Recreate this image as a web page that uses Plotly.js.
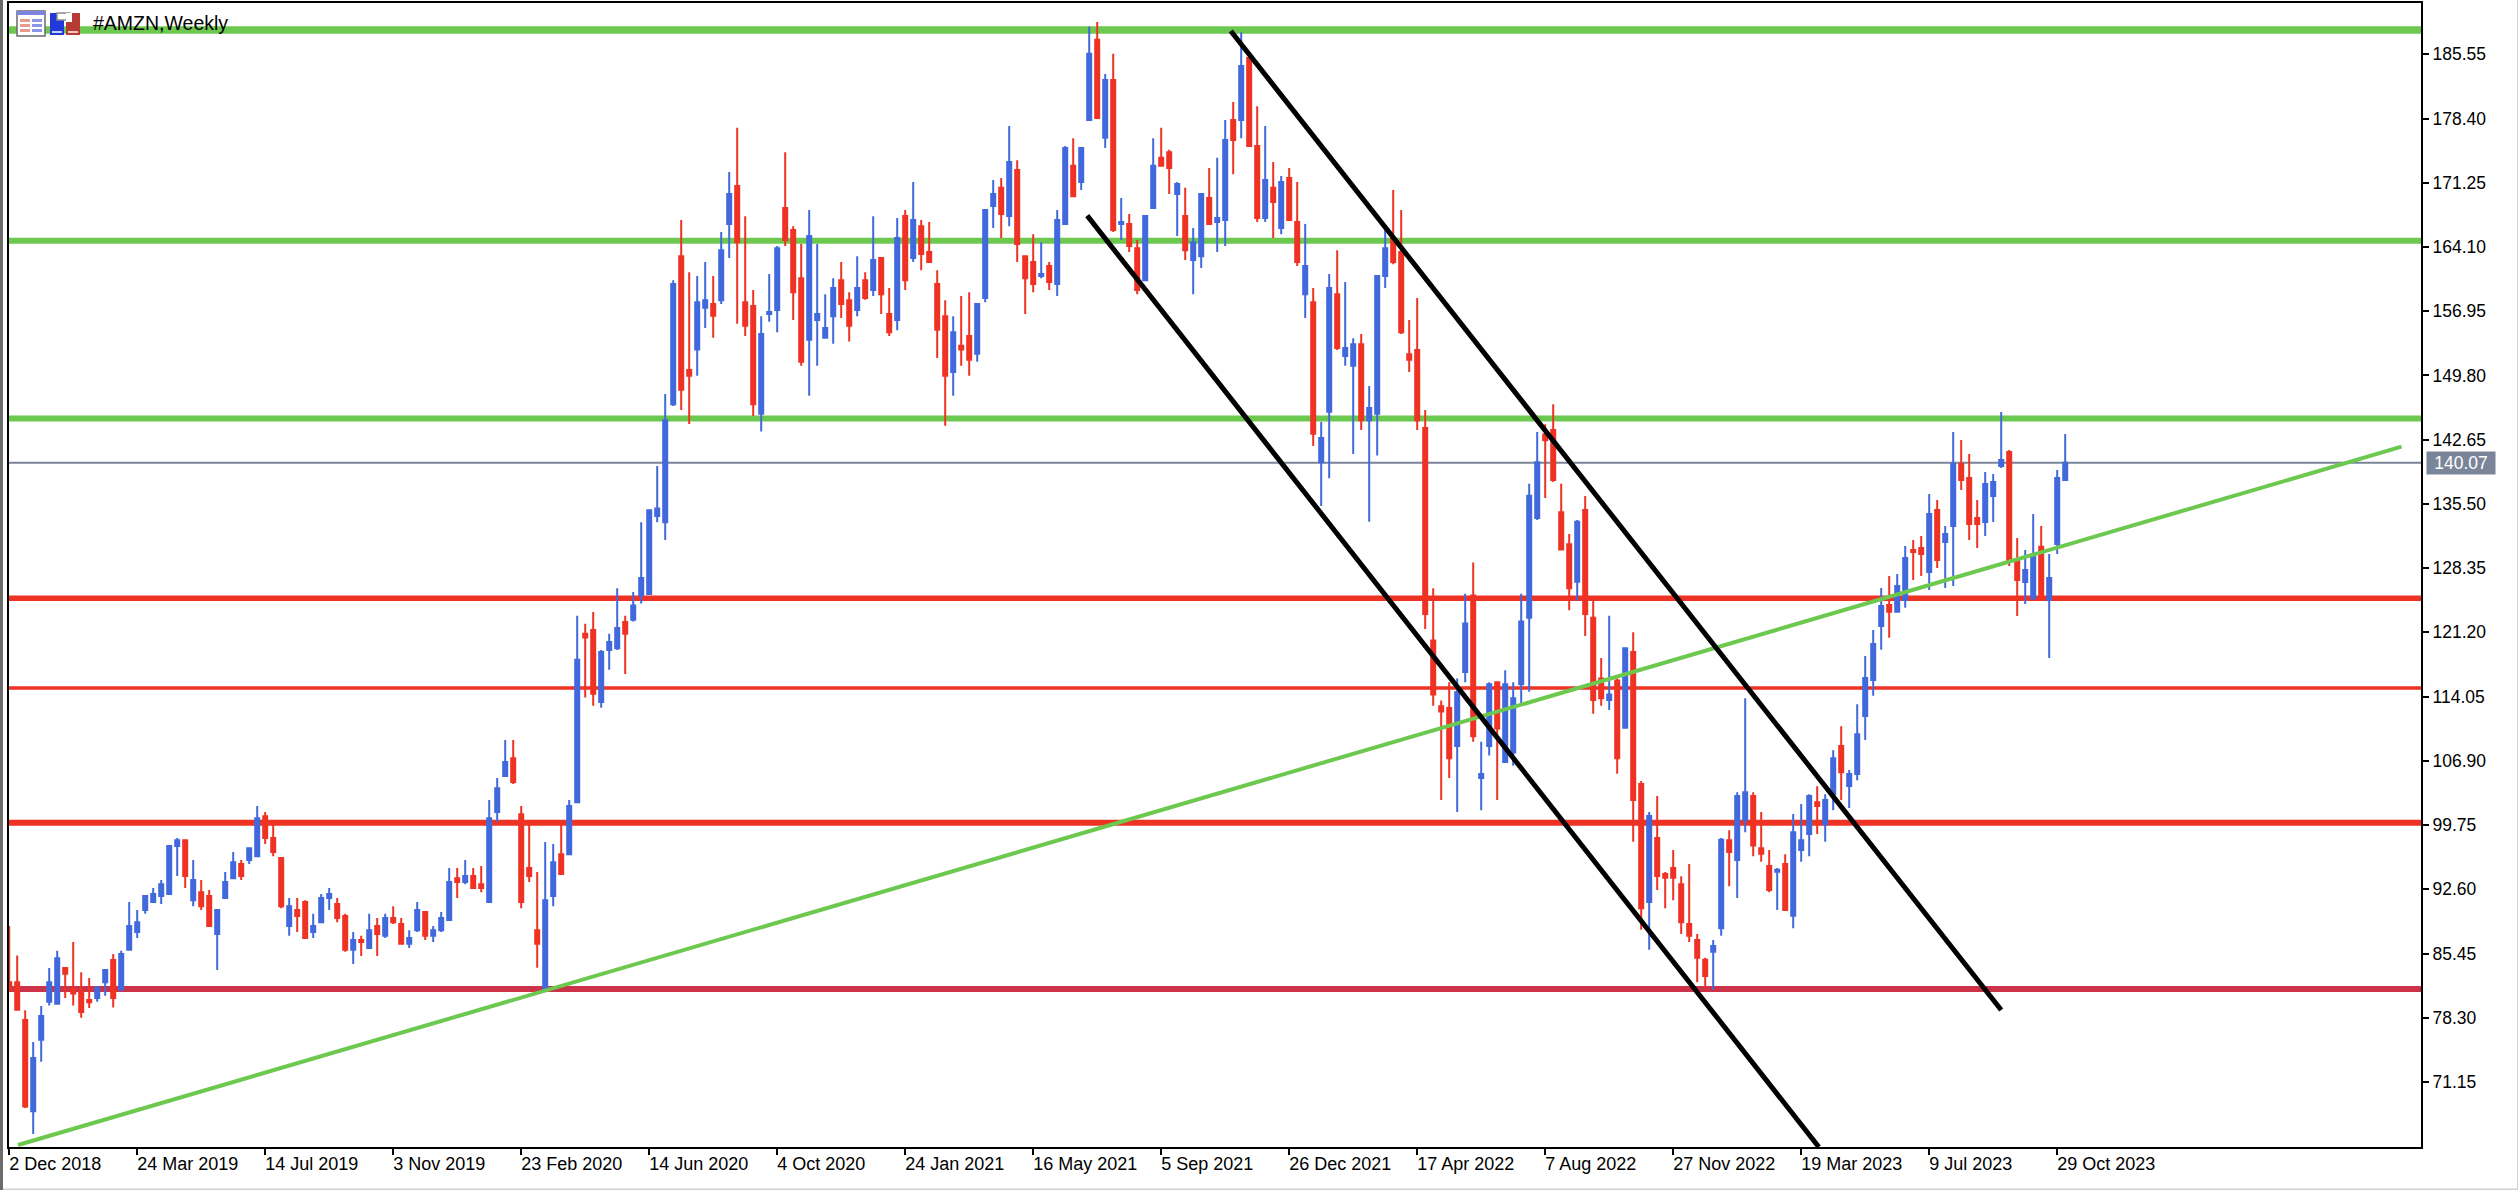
<!DOCTYPE html>
<html>
<head>
<meta charset="utf-8">
<script src="https://cdn.plot.ly/plotly-3.0.1.min.js"></script>
<style>html,body{margin:0;padding:0;background:#fff;overflow:hidden}#chart{position:absolute;left:0;top:0;width:2518px;height:1190px}</style>
</head>
<body>
<div id="chart"></div>
<script>
const chartTitle = '#AMZN,Weekly';
const firstWeek = Date.UTC(2018, 11, 2);
const opens = [
82.26,82.26,78.04,67.90,75.84,80.07,79.86,83.83,81.42,81.21,
80.28,80.49,82.26,84.72,81.42,85.86,87.84,90.29,91.18,91.86,
92.07,97.43,98.07,91.39,92.28,91.86,87.63,91.64,93.84,95.40,
95.87,96.29,100.73,98.32,96.08,88.52,90.29,91.18,87.84,88.94,
91.64,90.97,89.62,85.86,86.95,86.07,88.52,87.42,89.40,88.73,
86.53,88.05,90.08,87.42,88.05,89.19,93.84,93.42,94.09,93.17,
91.18,101.19,105.21,107.19,100.94,94.98,88.05,81.42,91.86,96.50,
96.50,102.29,121.05,121.47,113.45,119.23,119.44,122.36,122.6,125.3,
125.48,134.14,133.46,146.60,163.08,150.40,152.68,157.33,157.75,158.17,
166.67,170.89,157.96,157.54,145.54,156.65,157.08,168.44,165.99,160.62,
153.78,155.98,153.99,156.40,160.41,158.17,157.08,160.41,159.32,162.86,
156.65,155.98,167.55,162.86,166.41,163.54,159.99,156.40,150.19,153.11,
154.20,152.22,158.43,168.65,170.68,167.55,172.67,163.08,162.44,160.88,
161.97,159.99,166.67,173.13,171.32,178.24,187.16,176.26,182.68,166.67,
166.67,163.96,160.41,168.44,174.02,174.65,170.0,167.55,162.66,163.08,
169.54,166.88,167.09,178.24,178.24,185.13,175.33,167.34,170.68,166.20,
171.78,166.88,158.85,157.96,140.13,145.75,158.85,151.96,150.87,153.27,
144.82,145.54,160.88,165.10,163.54,152.17,152.64,143.94,120.29,112.98,
112.77,108.54,116.78,125.3,105.0,108.54,115.64,106.77,107.83,115.43,
122.83,133.92,143.22,143.73,134.56,131.0,126.83,134.81,122.82,116.06,
113.66,115.85,110.57,119.02,104.32,91.18,98.32,94.31,94.98,93.17,
88.73,86.95,84.76,85.64,88.26,98.07,95.87,100.31,102.97,97.18,
95.19,94.56,95.40,89.66,96.97,98.74,102.29,99.84,103.18,108.54,
104.11,105.42,111.88,115.89,121.90,124.24,123.50,124.80,130.36,130.59,
127.91,134.82,131.25,133.04,139.94,138.38,133.93,133.48,136.38,139.72,
141.27,129.25,126.80,124.98,130.74,124.80,131.03,138.16];
const highs = [
88.52,85.22,79.14,75.59,79.60,83.83,85.77,83.83,86.74,83.36,
82.73,81.84,83.62,85.39,85.77,91.18,90.29,91.86,92.74,93.63,
97.43,98.32,98.07,95.87,93.63,92.53,90.29,94.52,96.76,95.87,
97.18,101.87,101.19,99.84,96.08,91.64,91.64,91.39,89.87,92.07,
92.74,91.64,89.87,87.84,87.42,89.87,89.40,89.87,90.71,89.40,
88.05,91.18,90.08,88.52,90.08,94.98,94.98,95.87,94.98,95.19,
102.54,105.0,109.22,109.22,101.87,99.84,94.52,97.86,97.64,100.01,
102.54,123.04,122.15,123.46,119.23,121.05,126.1,123.04,125.7,133.46,
134.8,139.71,147.74,160.41,167.09,161.30,160.88,162.44,160.88,165.78,
172.45,177.36,167.51,159.32,156.40,161.09,164.22,174.65,166.41,164.43,
168.23,164.43,158.85,160.62,162.44,159.06,163.08,161.30,167.51,162.86,
159.52,167.34,168.23,171.32,167.09,166.88,161.51,158.17,156.40,158.64,
159.06,157.75,168.23,171.57,171.78,177.57,173.76,163.08,165.53,164.64,
162.44,168.23,175.33,176.21,175.12,188.64,189.15,183.36,185.60,169.54,
167.76,164.89,167.55,176.21,177.36,174.91,171.32,170.68,166.20,170.0,
172.88,174.02,178.24,180.23,188.0,185.26,179.76,177.57,173.55,171.99,
172.88,171.32,166.67,159.52,144.61,161.09,163.75,160.20,153.95,154.41,
148.63,160.88,165.99,170.43,168.23,155.98,158.43,145.96,126.1,113.61,
115.64,116.06,125.5,128.98,109.01,115.64,115.64,116.99,115.64,125.5,
137.73,143.51,144.36,146.60,137.73,132.15,133.71,136.37,124.73,118.35,
123.04,116.06,119.44,121.22,104.66,101.19,102.97,94.52,96.97,94.05,
95.40,87.63,84.97,86.95,98.32,99.16,103.39,113.87,103.39,101.19,
96.97,94.98,96.50,100.98,102.08,103.18,104.07,103.18,108.08,110.74,
105.88,113.19,118.56,121.46,126.13,127.47,127.69,130.81,131.48,131.92,
136.60,135.93,133.04,143.50,142.61,141.05,135.93,139.05,138.82,145.73,
141.50,131.70,130.36,134.37,133.04,129.92,139.27,143.28];
const lows = [
81.21,79.18,68.24,65.36,73.39,79.65,79.86,80.49,79.65,78.29,
79.39,80.07,80.74,79.43,81.42,85.86,87.17,89.87,91.18,90.97,
92.07,94.09,92.74,90.71,90.29,88.52,83.62,91.64,93.84,93.63,
95.40,96.29,97.64,96.29,90.50,87.42,87.84,87.17,87.17,88.94,
90.29,88.94,85.64,84.29,85.18,86.07,85.18,87.17,88.73,86.53,
86.07,87.84,86.95,86.74,87.84,89.19,91.64,93.17,92.74,92.28,
91.18,100.09,105.21,104.32,90.50,93.42,83.87,81.42,90.71,94.31,
96.50,102.29,113.95,113.02,112.81,117.04,119.23,116.57,122.4,124.4,
125.4,133.46,131.47,146.39,145.96,144.40,149.77,155.09,153.99,157.75,
162.86,155.56,154.20,145.29,143.56,155.77,154.62,164.22,155.98,150.87,
147.53,150.87,153.99,153.32,156.19,153.57,156.40,158.22,158.64,156.65,
154.20,154.84,159.32,162.44,161.51,162.44,151.75,144.19,147.53,150.87,
149.77,151.33,157.96,166.20,165.10,166.41,162.44,156.65,159.06,160.62,
159.32,158.64,166.67,169.75,170.43,178.24,178.46,175.12,165.78,164.89,
163.54,158.85,160.41,168.44,173.13,170.0,165.31,162.66,158.85,161.77,
166.67,163.54,164.22,172.20,176.21,175.33,166.88,166.88,165.10,165.53,
167.09,161.97,156.19,141.95,135.27,138.36,152.64,150.87,141.06,143.73,
133.50,140.90,159.52,162.19,154.41,150.19,143.73,121.56,113.02,102.54,
105.0,101.19,115.64,109.01,101.40,107.49,102.54,106.77,106.35,113.11,
114.59,133.71,136.16,137.94,130.42,123.67,124.73,120.80,112.14,113.02,
112.56,105.46,110.57,97.90,88.10,85.86,92.53,90.50,91.39,87.63,
86.74,82.26,81.63,81.42,87.42,92.95,91.64,98.95,96.29,95.66,
92.28,90.29,90.29,88.26,95.66,96.29,98.74,97.90,101.40,102.54,
101.66,104.74,109.21,114.15,119.27,120.60,123.50,123.94,127.02,127.47,
125.91,128.36,126.13,126.36,137.04,131.48,130.59,131.92,133.48,139.49,
128.58,123.02,124.35,124.87,124.98,118.34,129.92,138.16];
const closes = [
81.42,79.18,68.41,73.81,78.50,82.26,84.93,83.19,81.00,78.93,
80.03,81.63,83.62,80.49,85.39,88.52,88.94,91.86,92.07,93.17,
97.43,98.07,94.09,93.63,90.71,88.52,90.29,93.42,95.62,94.09,
97.18,100.52,98.32,96.76,90.71,90.71,89.62,87.17,88.52,91.64,
92.07,89.40,85.86,86.95,86.74,88.05,87.63,89.40,88.94,86.53,
87.17,90.29,87.42,88.05,89.40,93.42,93.42,94.09,92.74,92.74,
100.52,103.85,106.77,104.53,91.18,94.09,86.53,91.39,95.62,94.31,
101.87,118.14,120.63,114.37,119.02,120.12,121.68,121.05,124.2,127.25,
134.8,134.98,144.82,159.99,148.20,149.77,157.96,158.17,156.44,163.75,
170.0,164.64,155.34,146.60,154.41,156.87,163.96,164.89,159.06,151.33,
165.31,156.65,155.09,159.52,157.75,155.34,159.52,158.43,162.66,158.85,
154.62,165.10,160.41,167.09,163.33,162.44,154.88,149.77,154.62,152.68,
151.54,157.75,168.23,170.0,167.76,173.55,164.43,160.62,159.99,161.09,
160.20,167.09,175.12,169.75,175.12,185.60,178.46,182.68,165.99,166.88,
164.22,159.32,167.55,173.13,173.13,172.88,171.10,163.75,164.64,170.0,
166.67,167.34,176.0,176.0,184.24,175.33,167.34,171.57,169.12,171.32,
167.09,162.44,161.97,143.30,142.84,159.52,152.85,152.85,153.27,144.82,
146.18,160.88,163.96,162.44,154.62,151.54,144.82,123.25,114.29,112.39,
107.19,114.54,122.19,109.64,105.42,115.43,110.49,115.43,113.87,122.40,
136.40,140.13,142.59,138.15,130.42,126.11,133.50,123.25,113.66,113.87,
114.29,107.19,119.44,102.54,90.50,100.77,94.09,93.88,93.88,88.94,
87.42,84.97,82.94,86.28,98.11,96.76,102.97,103.39,97.47,96.55,
92.53,94.77,90.29,98.95,98.07,102.97,101.87,102.54,107.19,105.63,
105.42,109.85,116.11,119.90,124.13,123.50,126.36,129.47,130.14,129.92,
134.37,129.25,132.14,139.94,138.16,133.26,133.26,137.71,137.93,140.38,
129.25,127.02,128.14,129.62,124.98,127.25,138.38,140.07];

const xTickWeeks = [0,16,32,48,64,80,96,112,128,144,160,176,192,208,224,240,256];
const xTickLabels = ['2 Dec 2018','24 Mar 2019','14 Jul 2019','3 Nov 2019','23 Feb 2020','14 Jun 2020','4 Oct 2020','24 Jan 2021','16 May 2021','5 Sep 2021','26 Dec 2021','17 Apr 2022','7 Aug 2022','27 Nov 2022','19 Mar 2023','9 Jul 2023','29 Oct 2023'];
const yTicks = [185.55,178.40,171.25,164.10,156.95,149.80,142.65,135.50,128.35,121.20,114.05,106.90,99.75,92.60,85.45,78.30,71.15];
const yTickLabels = ['185.55','178.40','171.25','164.10','156.95','149.80','142.65','135.50','128.35','121.20','114.05','106.90','99.75','92.60','85.45','78.30','71.15'];

const lastPrice = 140.07;
const levelPrices = [188.25,164.8,145,125,115,100,81.5,lastPrice];
const levelColors = ['#6CC84E','#6CC84E','#6CC84E','#EE3224','#EE3224','#EE3224','#CC3248','#7A8599'];
const levelWidths = [7.5,6,6,5.5,3.5,6,6,2];

const trendWeeks = [1.1,299.05];
const trendPrices = [64.13,141.87];
const upperWeeks = [152.7,249];
const upperPrices = [188.14,79.16];
const lowerWeeks = [134.75,226.2];
const lowerPrices = [167.59,63.91];

const weekDate = i => new Date(firstWeek + i*7*86400000).toISOString();
const dates = opens.map((_, i) => weekDate(i));
const L = 9, R = 2421, T = 3, B = 1147;
const px = x => (x-L)/(R-L), py = y => 1-(y-T)/(B-T);
const rect = (x0,y0,x1,y1,fill,line) => ({type:'rect',xref:'paper',yref:'paper',layer:'above',
  x0:px(x0),x1:px(x1),y0:py(y1),y1:py(y0),fillcolor:fill,line:{color:line||fill,width:line?1.5:0}});

const levelShapes = levelPrices.map((p,i)=>({type:'line',layer:'below',xref:'paper',yref:'y',x0:0,x1:1,y0:p,y1:p,
  line:{color:levelColors[i],width:levelWidths[i]}}));
const iconShapes = [
  rect(17,11,45,36,'#ffffff','#6a6a6a'), rect(17,11,45,15,'#7A84E0'),
  rect(20,19,30,22,'#E79A8C'), rect(20,24,30,27,'#E79A8C'), rect(20,29,30,32,'#E79A8C'),
  rect(32,19,42,22,'#8C96E8'), rect(32,24,42,27,'#8C96E8'), rect(32,29,42,32,'#8C96E8'),
  rect(50,13,64,35,'#2238D8'), rect(57,13,70,20,'#ffffff','#8c8c8c'), rect(66,13,80,35,'#B83A32'),
  rect(66,13,72,22,'#ffffff'), rect(52,31,62,33,'#C8D0F0'), rect(68,31,78,33,'#F0C8C0'),
  rect(0-0,1188.5,2518,1190,'#D0D0D0'), rect(2517,0,2518,1190,'#D0D0D0'), rect(0,0,3,1190,'#6B6B6B')
];

const traces = [
  {type:'candlestick',x:dates,open:opens,high:highs,low:lows,close:closes,whiskerwidth:0,hoverinfo:'skip',showlegend:false,
   increasing:{line:{color:'#4169DC',width:2},fillcolor:'#4169DC'},
   decreasing:{line:{color:'#EE3224',width:2},fillcolor:'#EE3224'}},
  {type:'scatter',mode:'lines',x:trendWeeks.map(weekDate),y:trendPrices,line:{color:'#6CC84E',width:4},hoverinfo:'skip',showlegend:false},
  {type:'scatter',mode:'lines',x:upperWeeks.map(weekDate),y:upperPrices,line:{color:'#000000',width:5},hoverinfo:'skip',showlegend:false},
  {type:'scatter',mode:'lines',x:lowerWeeks.map(weekDate),y:lowerPrices,line:{color:'#000000',width:5},hoverinfo:'skip',showlegend:false}
];

const font = 'Liberation Sans, Arial, sans-serif';
const layout = {
  width:2518,height:1190,autosize:false,showlegend:false,
  margin:{l:L,r:2518-R,t:T,b:1190-B,pad:0},
  paper_bgcolor:'#ffffff',plot_bgcolor:'#ffffff',boxgap:0.5,boxgroupgap:0,
  title:{text:chartTitle,x:93/2518,xanchor:'left',xref:'container',y:1-23/1190,yanchor:'middle',yref:'container',font:{family:font,size:19.5,color:'#000'}},
  xaxis:{type:'date',range:[weekDate(-0.025),weekDate(301.475)],rangeslider:{visible:false},showgrid:false,zeroline:false,
    showline:true,mirror:true,linecolor:'#000',linewidth:2,ticks:'outside',ticklen:6,tickwidth:2,tickcolor:'#000',
    tickmode:'array',tickvals:xTickWeeks.map(weekDate),ticktext:xTickLabels,tickangle:0,ticklabeloverflow:'allow',ticklabelstandoff:-7,
    tickfont:{family:font,size:18,color:'#000'}},
  yaxis:{side:'right',range:[63.91,191.26],showgrid:false,zeroline:false,showline:true,mirror:true,linecolor:'#000',linewidth:2,
    ticks:'outside',ticklen:6,tickwidth:2,tickcolor:'#000',tickmode:'array',tickvals:yTicks,ticktext:yTickLabels,
    tickfont:{family:font,size:17.5,color:'#000'}},
  shapes:levelShapes.concat(iconShapes),
  annotations:[{xref:'paper',yref:'y',x:px(2426),y:lastPrice,xanchor:'left',yanchor:'middle',showarrow:false,
    text:lastPrice.toFixed(2),width:68,height:22,bgcolor:'#7A8599',align:'center',valign:'middle',borderpad:0,
    font:{family:font,size:17.5,color:'#ffffff'}}]
};

const gd = document.getElementById('chart');
function alignTicks(){
  gd.querySelectorAll('.xtick text').forEach(t=>t.setAttribute('text-anchor','start'));
}
Plotly.newPlot(gd,traces,layout,{displayModeBar:false,responsive:false}).then(()=>{
  alignTicks();
  gd.on('plotly_afterplot',alignTicks);
});
</script>
</body>
</html>
